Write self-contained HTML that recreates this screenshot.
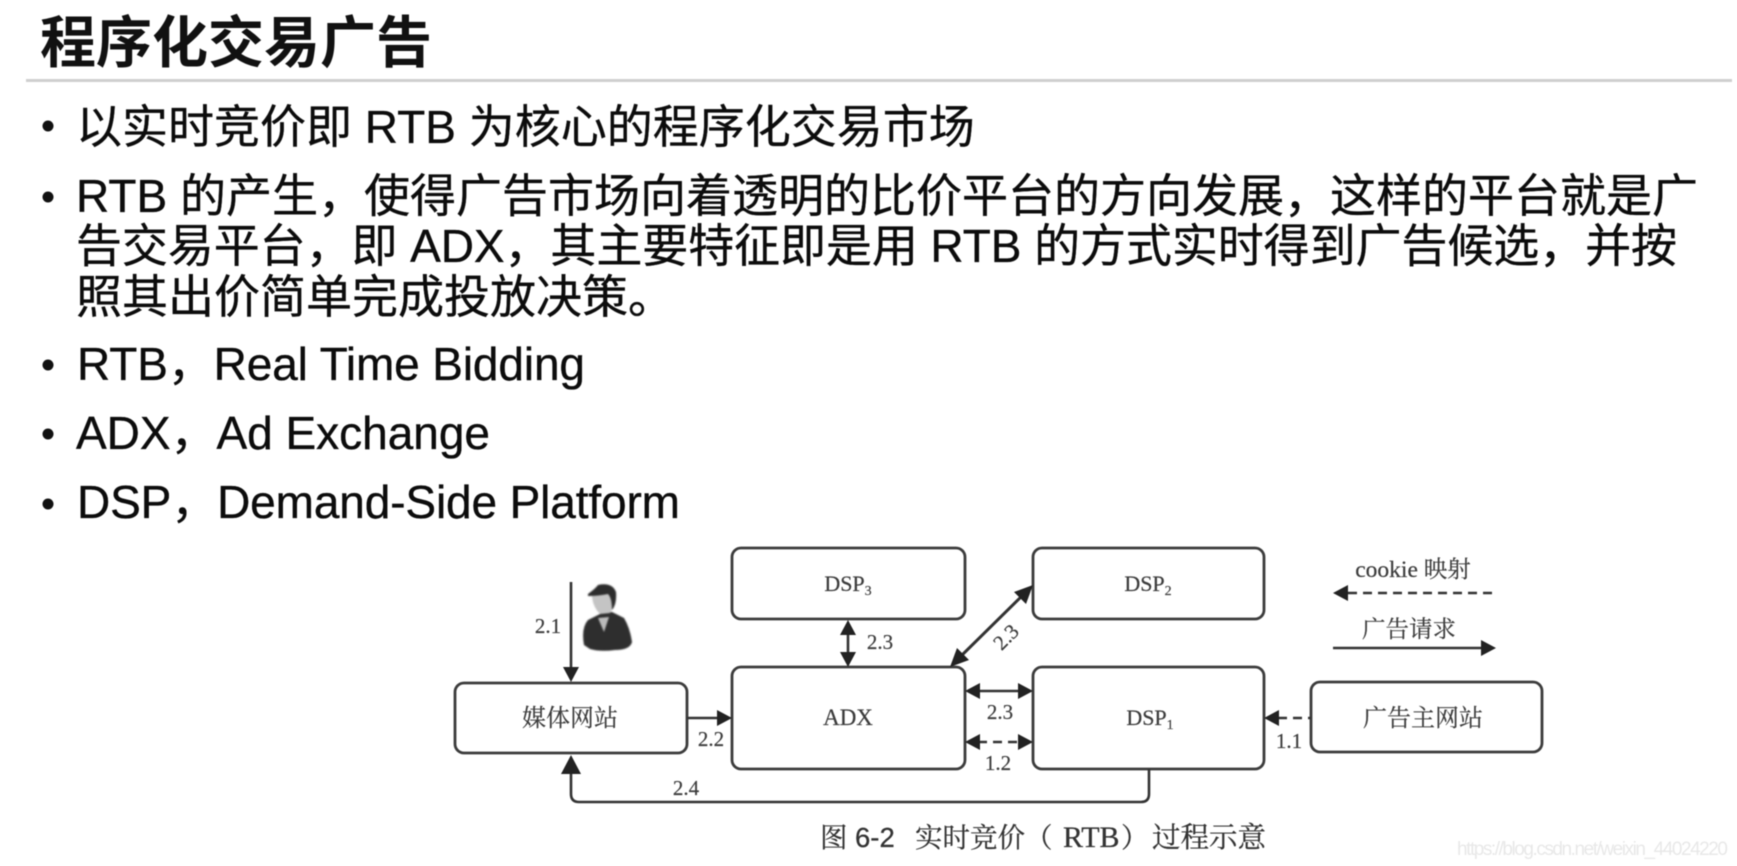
<!DOCTYPE html>
<html lang="zh"><head><meta charset="utf-8"><title>程序化交易广告</title>
<style>
html,body{margin:0;padding:0;background:#fff;width:1737px;height:866px;overflow:hidden}
svg{display:block;position:absolute;left:0;top:0;filter:blur(.6px)}
.t{font-family:"Liberation Sans","Noto Sans CJK SC",sans-serif;font-size:46px;fill:#0c0c0c;stroke:#0c0c0c;stroke-width:.35}
.h{font-family:"Liberation Sans","Noto Sans CJK SC",sans-serif;font-size:56px;font-weight:700;fill:#111}
.s{font-family:"Liberation Serif","Noto Serif CJK SC",serif;font-size:21px;fill:#3c3c3c;stroke:#3c3c3c;stroke-width:.2;text-anchor:middle}
.b{fill:#fff;stroke:#3c3c3c;stroke-width:2.8}
.l{fill:none;stroke:#333;stroke-width:2.6}
.d{stroke-dasharray:9 6}
.a{fill:#222}
.c{font-family:"Liberation Sans","Noto Serif CJK SC",serif;font-size:27.5px;fill:#333;stroke:#333;stroke-width:.25}
</style></head><body>
<svg width="1737" height="866" viewBox="0 0 1737 866" xmlns="http://www.w3.org/2000/svg">
<text class="h" x="40" y="62.5" textLength="392">程序化交易广告</text>
<rect x="26" y="79" width="1706" height="3" fill="#cfcfcf"/>
<g fill="#111"><circle cx="48" cy="126" r="5.5"/><circle cx="48" cy="197" r="5.5"/><circle cx="48" cy="365" r="5.5"/><circle cx="48" cy="434" r="5.5"/><circle cx="48" cy="504" r="5.5"/></g>
<text class="t" x="76" y="143">以实时竞价即 RTB 为核心的程序化交易市场</text>
<text class="t" x="76" y="212">RTB 的产生，使得广告市场向着透明的比价平台的方向发展，这样的平台就是广</text>
<text class="t" x="76" y="262" textLength="1601">告交易平台，即 ADX，其主要特征即是用 RTB 的方式实时得到广告候选，并按</text>
<text class="t" x="76" y="313">照其出价简单完成投放决策。</text>
<text class="t" x="77" y="380" textLength="508">RTB，Real Time Bidding</text>
<text class="t" x="76" y="449" textLength="414">ADX，Ad Exchange</text>
<text class="t" x="77" y="518" textLength="603">DSP，Demand-Side Platform</text>

<rect class="b" x="732" y="548" width="233" height="71" rx="9"/>
<rect class="b" x="1033" y="548" width="231" height="71" rx="9"/>
<rect class="b" x="732" y="667" width="233" height="102" rx="9"/>
<rect class="b" x="1033" y="667" width="231" height="102" rx="9"/>
<rect class="b" x="455" y="683" width="232" height="70" rx="9"/>
<rect class="b" x="1311" y="682" width="231" height="70" rx="9"/>

<text class="s" x="848" y="591" style="font-size:22px">DSP<tspan font-size="14" dy="4">3</tspan></text>
<text class="s" x="1148" y="591" style="font-size:22px">DSP<tspan font-size="14" dy="4">2</tspan></text>
<text class="s" x="848" y="725" style="font-size:23px">ADX</text>
<text class="s" x="1150" y="725" style="font-size:22px">DSP<tspan font-size="14" dy="4">1</tspan></text>
<text class="s" x="570" y="726" style="font-size:24px">媒体网站</text>
<text class="s" x="1423" y="726" style="font-size:24px">广告主网站</text>
<text class="s" x="1413" y="577" style="font-size:23.5px">cookie 映射</text>
<text class="s" x="1409" y="637" style="font-size:23.5px">广告请求</text>

<line class="l" x1="571" y1="582" x2="571" y2="670"/><polygon class="a" points="571,682 563,667 579,667"/>
<line class="l" x1="687" y1="718" x2="720" y2="718"/><polygon class="a" points="732,718 717,710 717,726"/>
<line class="l" x1="848" y1="625" x2="848" y2="660"/><polygon class="a" points="848,620 840,635 856,635"/><polygon class="a" points="848,667 840,652 856,652"/>
<path class="l" d="M1149 769 V794 Q1149 802 1141 802 H579 Q571 802 571 794 V770"/><polygon class="a" points="571,755 561,774 581,774"/>
<line class="l" style="stroke-width:3" x1="958" y1="659" x2="1026" y2="592"/><polygon class="a" points="950,667 957,648 969,660"/><polygon class="a" points="1033,585 1026,604 1014,592"/>
<line class="l" x1="975" y1="691" x2="1022" y2="691"/><polygon class="a" points="965,691 980,683 980,699"/><polygon class="a" points="1033,691 1018,683 1018,699"/>
<line class="l d" x1="978" y1="742" x2="1020" y2="742"/><polygon class="a" points="965,742 980,734 980,750"/><polygon class="a" points="1033,742 1018,734 1018,750"/>
<line class="l d" x1="1278" y1="718" x2="1311" y2="718"/><polygon class="a" points="1264,718 1279,710 1279,726"/>
<line class="l d" x1="1348" y1="593" x2="1497" y2="593"/><polygon class="a" points="1333,593 1348,585 1348,601"/>
<line class="l" x1="1333" y1="648" x2="1484" y2="648"/><polygon class="a" points="1496,648 1481,640 1481,656"/>

<text class="s" x="548" y="633">2.1</text>
<text class="s" x="711" y="746">2.2</text>
<text class="s" x="880" y="649">2.3</text>
<text class="s" x="686" y="795">2.4</text>
<text class="s" x="1000" y="719">2.3</text>
<text class="s" x="998" y="770">1.2</text>
<text class="s" x="1289" y="748">1.1</text>
<text class="s" transform="translate(1006 637) rotate(-45)" y="7">2.3</text>

<g style="filter:blur(.8px)">
<path d="M584 645 Q581 628 588 620 L602 613 L612 612 L624 618 Q630 628 632 642 Q630 650 615 650 Q600 652 590 649Z" fill="#2e2e2e"/>
<path d="M592 594 L612 592 Q616 604 610 613 L600 614 Q592 606 592 594Z" fill="#c4c4c4"/>
<path d="M588 594 Q596 588 598 585 Q612 582 616 592 Q617 604 612 610 Q612 598 608 594 Q598 596 588 596Z" fill="#2c2c2c"/>
<path d="M598 618 L604 632 L609 617Z" fill="#bbb"/>
</g>

<text class="c" y="847"><tspan x="820">图</tspan><tspan x="855">6-2</tspan><tspan x="915">实时竞价（</tspan><tspan x="1063" style="font-family:'Liberation Serif',serif;font-size:30px">RTB</tspan><tspan x="1121">）</tspan><tspan x="1152" style="font-size:28.5px">过程示意</tspan></text>
<text x="1457" y="855" textLength="271" style="font-family:'Liberation Sans',sans-serif;font-size:19px" fill="#e8e8e8">https://blog.csdn.net/weixin_44024220</text>
</svg>
</body></html>
